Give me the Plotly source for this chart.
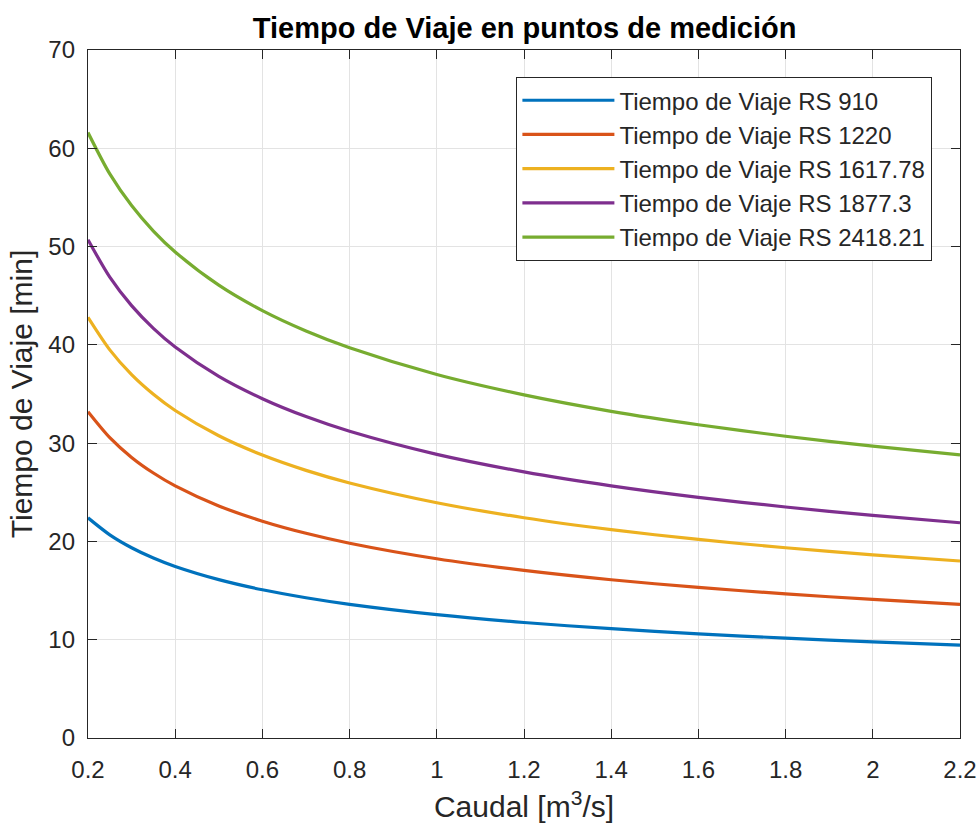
import plotly.graph_objects as go

caudal = [0.2, 0.25, 0.3, 0.35, 0.4, 0.5, 0.6, 0.7, 0.8, 1.0, 1.2, 1.4, 1.6, 1.8, 2.0, 2.2]

rs_910 = [22.4, 20.67, 19.36, 18.31, 17.45, 16.11, 15.08, 14.27, 13.60, 12.55, 11.75, 11.12, 10.60, 10.16, 9.78, 9.45]
rs_1220 = [33.2, 30.56, 28.55, 26.96, 25.65, 23.61, 22.06, 20.83, 19.82, 18.24, 17.05, 16.10, 15.32, 14.66, 14.10, 13.60]
rs_1617 = [42.8, 39.49, 36.97, 34.97, 33.32, 30.75, 28.79, 27.23, 25.95, 23.94, 22.41, 21.20, 20.20, 19.36, 18.64, 18.01]
rs_1877 = [50.7, 46.89, 43.99, 41.68, 39.78, 36.79, 34.52, 32.70, 31.21, 28.86, 27.08, 25.66, 24.49, 23.50, 22.65, 21.90]
rs_2418 = [61.6, 57.39, 54.17, 51.58, 49.45, 46.07, 43.48, 41.41, 39.70, 36.98, 34.91, 33.24, 31.87, 30.70, 29.69, 28.80]

names = ["Tiempo de Viaje RS 910", "Tiempo de Viaje RS 1220", "Tiempo de Viaje RS 1617.78",
         "Tiempo de Viaje RS 1877.3", "Tiempo de Viaje RS 2418.21"]
colors = ["#0072BD", "#D95319", "#EDB120", "#7E2F8E", "#77AC30"]
series = [rs_910, rs_1220, rs_1617, rs_1877, rs_2418]

x_ticks = [0.2, 0.4, 0.6, 0.8, 1.0, 1.2, 1.4, 1.6, 1.8, 2.0, 2.2]
x_ticktext = ["0.2", "0.4", "0.6", "0.8", "1", "1.2", "1.4", "1.6", "1.8", "2", "2.2"]
y_ticks = [0, 10, 20, 30, 40, 50, 60, 70]

fig = go.Figure()
for i, (nm, col, ys) in enumerate(zip(names, colors, series)):
    fig.add_trace(go.Scatter(
        x=caudal, y=ys, name=nm, mode="lines",
        line=dict(color=col, width=3.2, shape="spline", smoothing=0.8),
    ))

font_family = "Liberation Sans, Arial, sans-serif"
fig.update_layout(
    width=977, height=827,
    margin=dict(l=88, r=17, t=50, b=89),
    paper_bgcolor="white", plot_bgcolor="white",
    font=dict(family=font_family, color="#262626"),
    title=dict(text="<b>Tiempo de Viaje en puntos de medición</b>",
               x=0.537, xref="container", xanchor="center", y=0.966, yanchor="middle",
               font=dict(size=29, color="black", family=font_family)),
    showlegend=True,
    legend=dict(
        x=0.968, y=0.961, xanchor="right", yanchor="top",
        bgcolor="white", bordercolor="#262626", borderwidth=1.3,
        font=dict(size=24, color="#262626", family=font_family),
        tracegroupgap=0, itemwidth=92,
    ),
    xaxis=dict(
        range=[0.2, 2.2], tickvals=x_ticks, ticktext=x_ticktext,
        ticks="inside", ticklen=9, tickcolor="#262626", tickwidth=1,
        showline=True, linecolor="#262626", linewidth=1.3, mirror="ticks",
        showgrid=True, gridcolor="#e3e3e3", gridwidth=1, zeroline=False,
        tickfont=dict(size=24, color="#262626"), ticklabelstandoff=10,
        automargin=False,
        title=dict(text="Caudal [m<sup>3</sup>/s]", font=dict(size=30, color="#262626"), standoff=14),
    ),
    yaxis=dict(
        range=[0, 70], tickvals=y_ticks,
        ticks="inside", ticklen=9, tickcolor="#262626", tickwidth=1,
        showline=True, linecolor="#262626", linewidth=1.3, mirror="ticks",
        showgrid=True, gridcolor="#e3e3e3", gridwidth=1, zeroline=False,
        tickfont=dict(size=24, color="#262626"), ticklabelstandoff=7,
        automargin=False,
        title=dict(text="Tiempo de Viaje [min]", font=dict(size=30, color="#262626"), standoff=6),
    ),
)

fig.write_html("out.html", config={"displayModeBar": False},
               post_script="document.body.style.margin='0';document.body.style.overflow='hidden';")
